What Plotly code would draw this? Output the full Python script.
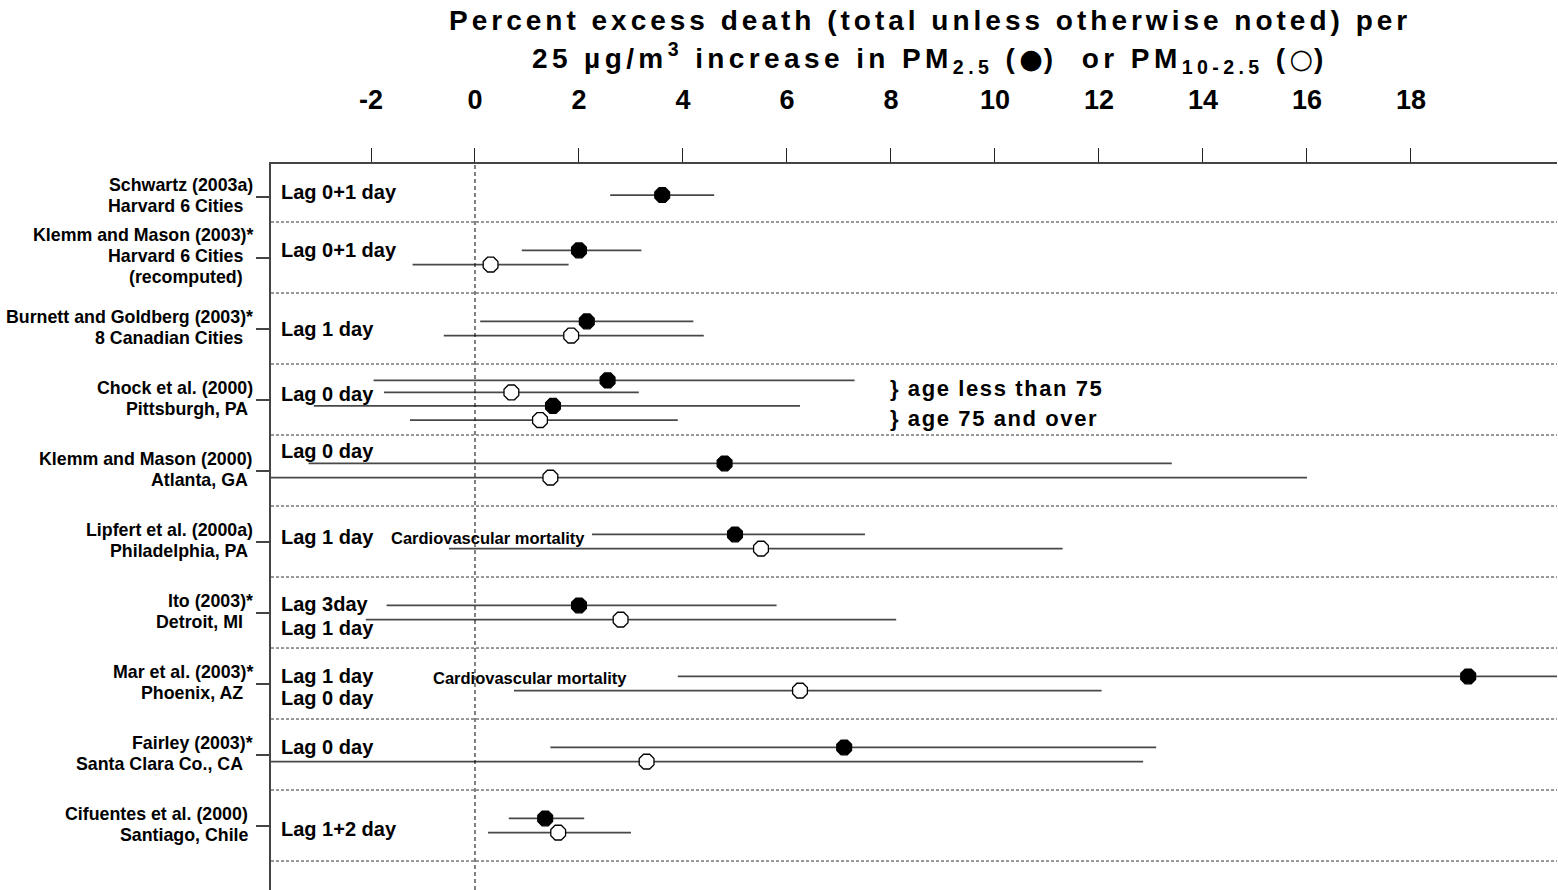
import plotly.graph_objects as go

# ---------------- data ----------------
study_names = ["Schwartz (2003a)", "Klemm and Mason (2003)*", "Burnett and Goldberg (2003)*",
               "Chock et al. (2000)", "Klemm and Mason (2000)", "Lipfert et al. (2000a)",
               "Ito (2003)*", "Mar et al. (2003)*", "Fairley (2003)*", "Cifuentes et al. (2000)"]
study_places = [["Harvard 6 Cities"], ["Harvard 6 Cities", "(recomputed)"], ["8 Canadian Cities"],
                ["Pittsburgh, PA"], ["Atlanta, GA"], ["Philadelphia, PA"], ["Detroit, MI"],
                ["Phoenix, AZ"], ["Santa Clara Co., CA"], ["Santiago, Chile"]]
x_ticks = [-2, 0, 2, 4, 6, 8, 10, 12, 14, 16, 18]

# each estimate: study row, slot within the row, pollutant, estimate, lower, upper
est_row = [0, 1, 1, 2, 2, 3, 3, 3, 3, 4, 4, 5, 5, 6, 6, 7, 7, 8, 8, 9, 9]
est_slot = [0, 0, 1, 0, 1, 0, 1, 2, 3, 0, 1, 0, 1, 0, 1, 0, 1, 0, 1, 0, 1]
est_kind = ["PM2.5", "PM2.5", "PM10-2.5", "PM2.5", "PM10-2.5",
            "PM2.5", "PM10-2.5", "PM2.5", "PM10-2.5",
            "PM2.5", "PM10-2.5", "PM2.5", "PM10-2.5", "PM2.5", "PM10-2.5",
            "PM2.5", "PM10-2.5", "PM2.5", "PM10-2.5", "PM2.5", "PM10-2.5"]
est_val = [3.6, 2.0, 0.3, 2.15, 1.85, 2.55, 0.7, 1.5, 1.25, 4.8, 1.45,
           5.0, 5.5, 2.0, 2.8, 19.1, 6.25, 7.1, 3.3, 1.35, 1.6]
est_lo = [2.6, 0.9, -1.2, 0.1, -0.6, -1.95, -1.75, -3.1, -1.25, -3.2, -4.4,
          2.25, -0.5, -1.7, -2.1, 3.9, 0.75, 1.45, -4.0, 0.65, 0.25]
est_hi = [4.6, 3.2, 1.8, 4.2, 4.4, 7.3, 3.15, 6.25, 3.9, 13.4, 16.0,
          7.5, 11.3, 5.8, 8.1, 22.5, 12.05, 13.1, 12.85, 2.1, 3.0]

lag_text = ["Lag 0+1 day", "Lag 0+1 day", "Lag 1 day", "Lag 0 day", "Lag 0 day", "Lag 1 day",
            "Lag 3day", "Lag 1 day", "Lag 1 day", "Lag 0 day", "Lag 0 day", "Lag 1+2 day"]
lag_row = [0, 1, 2, 3, 4, 5, 6, 6, 7, 7, 8, 9]
lag_off = [0.08, -0.1, 0.0, -0.08, -0.27, -0.07, -0.12, 0.22, -0.11, 0.2, -0.1, 0.05]

note_text = ["Cardiovascular mortality", "Cardiovascular mortality",
             "} age less than 75", "} age 75 and over"]
note_x = [-1.65, -0.85, 7.94, 7.94]
note_row = [5, 7, 3, 3]
note_off = [-0.05, -0.08, -0.16, 0.27]

# ---------------- layout constants ----------------
W, H = 1558, 890
ML, MT, MR, MB = 271, 164, 1, 0
PW, PH = W - ML - MR, H - MT - MB
x_range = [-3.923, 20.808]
y_range = [9.908, -0.317]
FONT = "Liberation Sans, Arial, Helvetica, sans-serif"

slot_offsets = {1: [0.12], 2: [-0.1, 0.1], 4: [-0.27, -0.1, 0.09, 0.29]}
row_count = {r: est_row.count(r) for r in set(est_row)}
est_y = [r + slot_offsets[row_count[r]][s] for r, s in zip(est_row, est_slot)]
row_tick = [0.15] + list(range(1, len(study_names)))


def px_x(p):
    return (p - ML) / PW


def px_y(p):
    return 1 - (p - MT) / PH


fig = go.Figure()

for kind, sym_color in [("PM2.5", "black"), ("PM10-2.5", "white")]:
    idx = [i for i, k in enumerate(est_kind) if k == kind]
    fig.add_trace(go.Scatter(
        x=[est_val[i] for i in idx],
        y=[est_y[i] for i in idx],
        mode="markers",
        marker=dict(symbol="octagon", size=16, color=sym_color,
                    line=dict(color="black", width=1.3)),
        error_x=dict(type="data", symmetric=False,
                     array=[est_hi[i] - est_val[i] for i in idx],
                     arrayminus=[est_val[i] - est_lo[i] for i in idx],
                     color="#484848", thickness=1.8, width=0),
        showlegend=False, hoverinfo="x",
    ))

shapes = []
# row separators
for k in range(len(study_names)):
    shapes.append(dict(type="line", xref="paper", x0=0, x1=1, yref="y", y0=k + 0.5, y1=k + 0.5,
                       line=dict(color="#333333", width=1, dash="3px,2px")))
# zero line
shapes.append(dict(type="line", xref="x", x0=0, x1=0, yref="paper", y0=0, y1=1,
                   line=dict(color="black", width=1, dash="4px,3px")))

ann = []
# y labels (one annotation per line)
for r, (name, places) in enumerate(zip(study_names, study_places)):
    lines = [name] + places
    n = len(lines)
    step = 0.296
    for j, ln in enumerate(lines):
        pad = "" if j == 0 else "\u00a0\u00a0"
        if r in (3, 4, 5):
            pad = "" if j == 0 else "\u00a0"
        if r == 9:
            pad = "\u00a0"
        ann.append(dict(text=ln + pad, xref="paper", x=px_x(255), xanchor="right",
                        yref="y", y=row_tick[r] - 0.02 + (j - (n - 1) / 2) * step, yanchor="middle",
                        showarrow=False, font=dict(family=FONT, size=17.8, color="black", weight="bold")))
# lag labels
for t, r, o in zip(lag_text, lag_row, lag_off):
    ann.append(dict(text=t, xref="paper", x=px_x(279), xanchor="left", yref="y", y=r + o,
                    yanchor="middle", showarrow=False,
                    font=dict(family=FONT, size=20, color="black", weight="bold")))
# notes
for t, x, r, o in zip(note_text, note_x, note_row, note_off):
    big = t.startswith("}")
    txt = f'<span style="letter-spacing:1.6px">{t}</span>' if big else t
    ann.append(dict(text=txt, xref="x", x=x, xanchor="left", yref="y", y=r + o,
                    yanchor="middle", showarrow=False,
                    font=dict(family=FONT, size=22 if big else 16.5, color="black", weight="bold")))
# title
dot_f = '<span style="font-family:\'DejaVu Sans\';font-size:27px;letter-spacing:1px">●</span>'
dot_o = '<span style="font-family:\'DejaVu Sans\';font-size:27px;letter-spacing:1px;font-weight:normal">○</span>'
title1 = "Percent excess death (total unless otherwise noted) per"
title2 = ("25 µg/m<sup>3</sup> increase in PM<sub>2.5</sub> (" + dot_f + ")  or PM<sub>10-2.5</sub> ("
          + dot_o + ")")
for t, py, ls in [(title1, 21, 4), (title2, 58, 4.4)]:
    ann.append(dict(text=f'<span style="letter-spacing:{ls}px">{t}</span>', xref="paper", x=px_x(930),
                    xanchor="center", yref="paper", y=px_y(py), yanchor="middle", showarrow=False,
                    font=dict(family=FONT, size=28, color="black", weight="bold")))

fig.update_layout(
    width=W, height=H, margin=dict(l=ML, r=MR, t=MT, b=MB, pad=0),
    paper_bgcolor="white", plot_bgcolor="white",
    shapes=shapes, annotations=ann,
    xaxis=dict(side="top", range=x_range, tickvals=x_ticks, ticktext=[str(v) for v in x_ticks],
               ticks="outside", ticklen=14,
               tickcolor="#222222", tickwidth=1, showline=True, linecolor="#444444", linewidth=1.5,
               showgrid=False, zeroline=False, ticklabelstandoff=28,
               tickfont=dict(family=FONT, size=27, color="black", weight="bold")),
    yaxis=dict(range=y_range, tickvals=row_tick, showticklabels=False, ticks="outside",
               ticklen=13, tickcolor="#444444", tickwidth=1.5, showline=True, linecolor="#444444",
               linewidth=1.5, showgrid=False, zeroline=False),
)

fig.write_html("out.html", config={"displayModeBar": False},
               post_script="document.body.style.margin='0';")
